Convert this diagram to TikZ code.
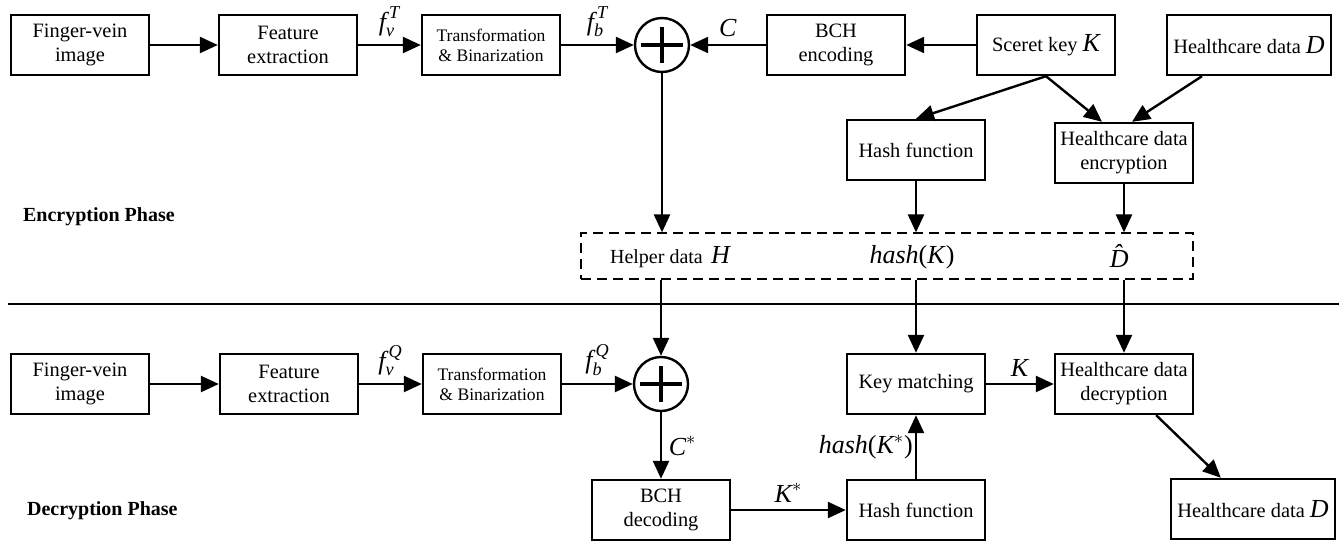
\documentclass[tikz,border=0pt]{standalone}
\usepackage{amsmath}
\usepackage{fontspec}
\setmainfont{Liberation Serif}
\usetikzlibrary{arrows.meta}

\newcommand{\vsym}[1]{{\fontsize{13}{13}\selectfont\itshape #1}}

\begin{document}
\begin{tikzpicture}[
        x=0.5pt, y=-0.5pt,
        box/.style={draw, line width=1.2pt, minimum width=69pt, minimum height=30pt, align=center, inner sep=2pt, font=\fontsize{10.2}{12}\selectfont},
        widebox/.style={box, minimum width=82pt},
        smallbox/.style={box, font=\fontsize{8.8}{10}\selectfont},
        xorsym/.style={circle, draw, line width=1.2pt, minimum size=27pt, inner sep=0pt,
            path picture={\draw[line width=1.6pt] (path picture bounding box.center) +(-10.5pt,0) -- +(10.5pt,0)
                (path picture bounding box.center) +(0,-9pt) -- +(0,9pt);}},
        helperbox/.style={draw, dashed, dash pattern=on 5pt off 3pt, line width=0.6pt, minimum width=306pt, minimum height=23pt},
        lbl/.style={font=\fontsize{13}{13}\selectfont},
        phase/.style={anchor=west, font=\bfseries\fontsize{10}{12}\selectfont},
        flow/.style={->, line width=1.2pt},
        >={Triangle[length=9pt,width=8pt]}
    ]
        \useasboundingbox (0,0) rectangle (1339,541);

        \node[box] (fv1) at (80,45) {Finger-vein\\image};
        \node[box] (fe1) at (288,45) {Feature\\extraction};
        \node[smallbox] (tb1) at (491,45) {Transformation\\\& Binarization};
        \node[xorsym] (xor1) at (662,45) {};
        \node[box] (bch1) at (836,45) {BCH\\encoding};
        \node[box] (sk) at (1046,45) {Sceret key \vsym{K}};
        \node[widebox] (hd1) at (1249,45) {Healthcare data \vsym{D}};
        \node[box] (hash1) at (916,150) {Hash function};
        \node[box] (hde) at (1124,153) {Healthcare data\\encryption};

        \node[phase] (encp) at (16,217) {Encryption Phase};

        \node[helperbox] (helper) at (887,256) {};
        \node (hh) at (670,257) {\fontsize{10}{12}\selectfont Helper data \,\vsym{H}};
        \node[lbl] (hk) at (912,257) {\textit{hash}(\textit{K})};
        \node[lbl] (dh) at (1124,256) {\textit{\^{D}}};

        \coordinate (sepL) at (8,304);
        \coordinate (sepR) at (1339,304);
        \draw[line width=0.6pt] (sepL) -- (sepR);

        \node[box] (fv2) at (80,384) {Finger-vein\\image};
        \node[box] (fe2) at (289,384) {Feature\\extraction};
        \node[smallbox] (tb2) at (492,384) {Transformation\\\& Binarization};
        \node[xorsym] (xor2) at (661,384) {};
        \node[box] (km) at (916,384) {Key matching};
        \node[box] (hdd) at (1124,384) {Healthcare data\\decryption};
        \node[box] (bch2) at (661,510) {BCH\\decoding};
        \node[box] (hash2) at (916,510) {Hash function};
        \node[widebox] (hd2) at (1253,509) {Healthcare data \vsym{D}};

        \node[phase] (decp) at (20,511) {Decryption Phase};

        \draw[flow] (fv1) -- (fe1);
        \draw[flow] (fe1) -- node[lbl, above] {$\textit{f}^{\,\textit{T}}_{\textit{v}}$} (tb1);
        \draw[flow] (tb1) -- node[lbl, above] {$\textit{f}^{\,\textit{T}}_{\textit{b}}$} (xor1);
        \draw[flow] (bch1) -- node[lbl, above] {\textit{C}} (xor1);
        \draw[flow] (sk) -- (bch1);
        \draw[flow] (sk.south) -- (hash1.north);
        \draw[flow] (sk.south) -- ([xshift=-11pt]hde.north);
        \draw[flow] ([xshift=-23.5pt]hd1.south) -- ([xshift=4pt]hde.north);
        \draw[flow] (xor1) -- (xor1 |- helper.north);
        \draw[flow] (hash1) -- (hash1 |- helper.north);
        \draw[flow] (hde) -- (hde |- helper.north);

        \draw[flow] (xor2 |- helper.south) -- (xor2);
        \draw[flow] (km |- helper.south) -- (km);
        \draw[flow] (hdd |- helper.south) -- (hdd);
        \draw[flow] (fv2) -- (fe2);
        \draw[flow] (fe2) -- node[lbl, above] {$\textit{f}^{\,\textit{Q}}_{\textit{v}}$} (tb2);
        \draw[flow] (tb2) -- node[lbl, above] {$\textit{f}^{\,\textit{Q}}_{\textit{b}}$} (xor2);
        \draw[flow] (xor2) -- node[lbl, right] {$\textit{C}^{*}$} (bch2);
        \draw[flow] (bch2) -- node[lbl, above] {$\textit{K}^{*}$} (hash2);
        \draw[flow] (hash2) -- node[lbl, left, inner sep=1pt] {\textit{hash}($\textit{K}^{*}$)} (km);
        \draw[flow] (km) -- node[lbl, above] {\textit{K}} (hdd);
        \draw[flow] (hdd) -- (hd2);
    \end{tikzpicture}
\end{document}
